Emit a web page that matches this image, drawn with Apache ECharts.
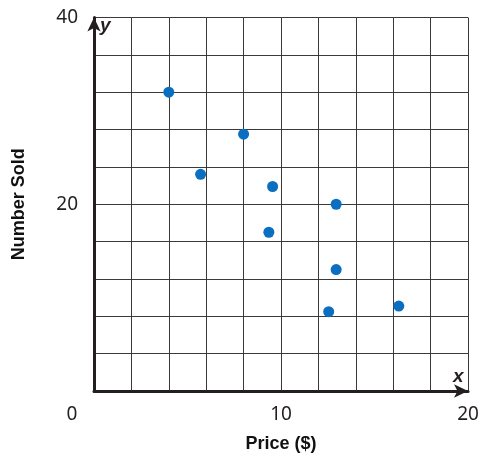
<!DOCTYPE html>
<html>
<head>
<meta charset="utf-8">
<script src="https://cdn.jsdelivr.net/npm/echarts@6/dist/echarts.min.js"></script>
<style>
  html, body { margin: 0; padding: 0; background: #fff; }
  #priceChart { width: 483px; height: 454px; }
</style>
</head>
<body>
<div id="priceChart"></div>
<script>
// price ($) and number sold
const prices = [4, 5.7, 8, 9.35, 9.55, 12.55, 12.95, 12.95, 16.3];
const numberSold = [32, 23.2, 27.5, 17, 21.9, 8.5, 20, 13, 9.1];
const xLabels = [0, 10, 20];
const yLabels = [20, 40];

const ink = '#231f20';
const points = prices.map((p, i) => [p, numberSold[i]]);

const chart = echarts.init(document.getElementById('priceChart'));
chart.setOption({
  animation: false,
  grid: { left: 94, right: 15, top: 17.5, bottom: 63, outerBoundsMode: 'none' },
  xAxis: {
    type: 'value', min: 0, max: 20, interval: 2,
    name: 'Price ($)', nameLocation: 'middle', nameGap: 44,
    nameTextStyle: { fontFamily: 'Liberation Sans', fontWeight: 'bold', fontSize: 18, color: '#111' },
    axisLine: { show: true, symbol: ['none', 'arrow'], symbolSize: [10, 14],
      lineStyle: { color: ink, width: 3 } },
    axisTick: { show: false },
    splitLine: { show: true, lineStyle: { color: '#3a3a3a', width: 1 } },
    axisLabel: {
      margin: 14, fontFamily: 'Noto Sans', fontSize: 19, color: ink,
      formatter: v => v === 0 ? '{o|0}' : (xLabels.includes(v) ? String(v) : ''),
      rich: { o: { fontFamily: 'Noto Sans', fontSize: 19, color: ink, padding: [0, 44, 0, 0] } }
    }
  },
  yAxis: {
    type: 'value', min: 0, max: 40, interval: 4,
    name: 'Number Sold', nameLocation: 'middle', nameGap: 66,
    nameTextStyle: { fontFamily: 'Liberation Sans', fontWeight: 'bold', fontSize: 18, color: '#111' },
    axisLine: { show: true, symbol: ['none', 'arrow'], symbolSize: [10, 14],
      lineStyle: { color: ink, width: 3 } },
    axisTick: { show: false },
    splitLine: { show: true, lineStyle: { color: '#3a3a3a', width: 1 } },
    axisLabel: {
      margin: 16, fontFamily: 'Noto Sans', fontSize: 19, color: ink, padding: [3, 0, 0, 0],
      formatter: v => yLabels.includes(v) ? String(v) : ''
    }
  },
  graphic: [
    { type: 'text', left: 100, top: 16,
      style: { text: 'y', fontFamily: 'Liberation Sans', fontStyle: 'italic', fontWeight: 'bold', fontSize: 19, fill: ink } },
    { type: 'text', left: 453, top: 367,
      style: { text: 'x', fontFamily: 'Liberation Sans', fontStyle: 'italic', fontWeight: 'bold', fontSize: 19, fill: ink } }
  ],
  series: [{
    type: 'scatter',
    data: points,
    symbolSize: 11,
    itemStyle: { color: '#0a6fc0', opacity: 1 }
  }]
});
</script>
</body>
</html>
